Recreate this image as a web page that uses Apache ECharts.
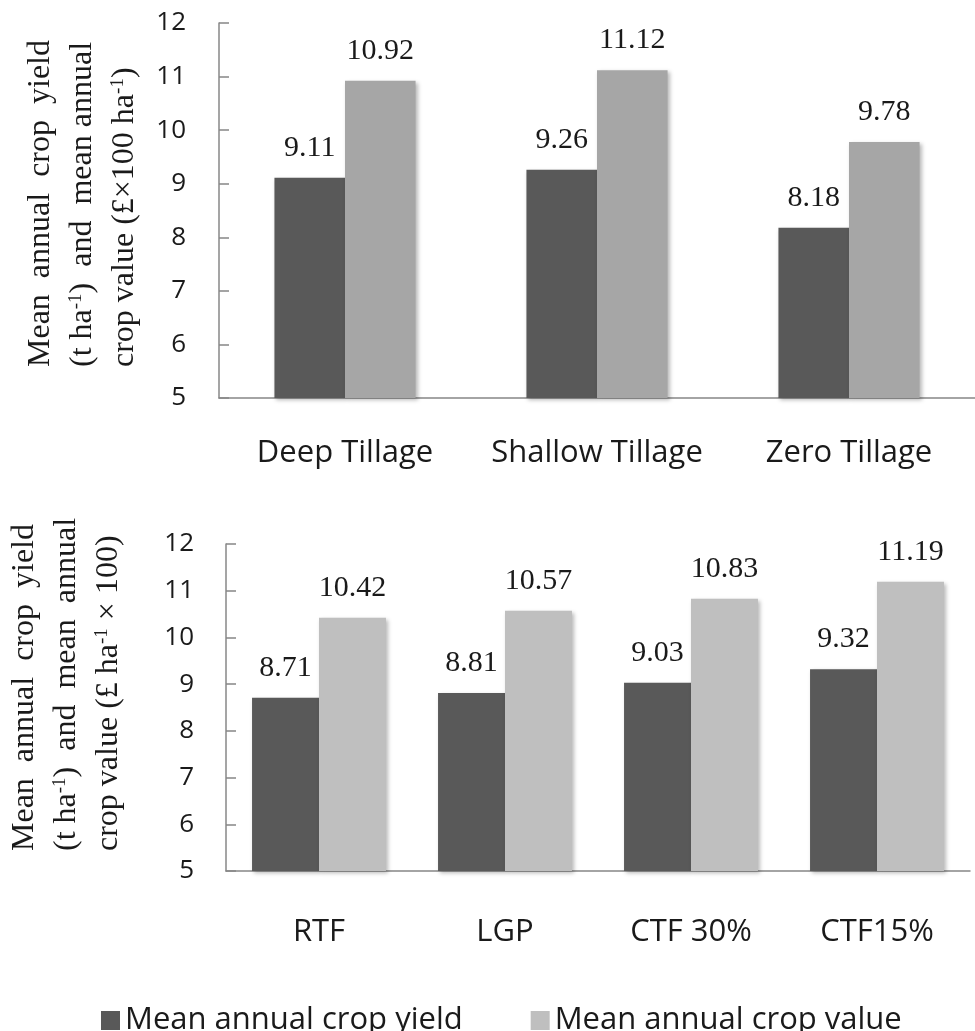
<!DOCTYPE html>
<html>
<head>
<meta charset="utf-8">
<script src="https://cdn.jsdelivr.net/npm/echarts@6/dist/echarts.min.js"></script>
<style>
html,body{margin:0;padding:0;background:#fff;}
#chart{width:975px;height:1031px;}
</style>
</head>
<body>
<div id="chart"></div>
<script>
// ---- data ----
var tillageCategories = ['Deep Tillage', 'Shallow Tillage', 'Zero Tillage'];
var tillageYield = [9.11, 9.26, 8.18];
var tillageValue = [10.92, 11.12, 9.78];

var trafficCategories = ['RTF', 'LGP', 'CTF 30%', 'CTF15%'];
var trafficYield = [8.71, 8.81, 9.03, 9.32];
var trafficValue = [10.42, 10.57, 10.83, 11.19];

var yTicks = [5, 6, 7, 8, 9, 10, 11, 12];
var seriesNames = ['Mean annual crop yield', 'Mean annual crop value'];

// ---- styles ----
var DARK = '#595959', LIGHT_TOP = '#a6a6a6', LIGHT_BOT = '#bfbfbf';
var AXIS = '#878787';
var SANS = '"Open Sans", "Liberation Sans", sans-serif';
var SERIF = '"Liberation Serif", "DejaVu Serif", serif';

var chart = echarts.init(document.getElementById('chart'), null, {renderer: 'canvas'});

function yAxisCfg(gridIndex, margin) {
  return {
    type: 'value', gridIndex: gridIndex,
    min: yTicks[0], max: yTicks[yTicks.length - 1], interval: 1,
    axisLine: {show: true, lineStyle: {color: AXIS, width: 1.5}},
    axisTick: {show: true, inside: true, length: 10, lineStyle: {color: AXIS, width: 1.5}},
    splitLine: {show: false},
    axisLabel: {color: '#1a1a1a', fontFamily: SANS, fontSize: 26, margin: margin, padding: [12, 0, 0, 0]}
  };
}
function xAxisCfg(gridIndex, cats, margin) {
  return {
    type: 'category', gridIndex: gridIndex, data: cats,
    axisLine: {show: true, lineStyle: {color: AXIS, width: 1.5}},
    axisTick: {show: false},
    axisLabel: {color: '#1a1a1a', fontFamily: SANS, fontSize: 31, margin: margin, interval: 0}
  };
}
function barSeries(name, data, color, axisIndex, width, gap) {
  return {
    name: name, type: 'bar', xAxisIndex: axisIndex, yAxisIndex: axisIndex,
    data: data, barWidth: width, barGap: '0%', barCategoryGap: gap,
    itemStyle: {color: color, shadowBlur: 4, shadowOffsetX: 2, shadowOffsetY: 2, shadowColor: 'rgba(0,0,0,0.28)'},
    label: {show: true, position: 'top', distance: 15, color: '#1a1a1a', fontFamily: SERIF, fontSize: 30,
      formatter: function (p) { return p.value.toFixed(2); }},
    emphasis: {disabled: true}
  };
}

var supRich = {
  n: {fontFamily: SERIF, fontSize: 32, lineHeight: 42, color: '#1a1a1a'},
  s: {fontFamily: SERIF, fontSize: 19, lineHeight: 42, color: '#1a1a1a', verticalAlign: 'top', padding: [5, 0, 0, 0]}
};

var option = {
  animation: false,
  backgroundColor: '#ffffff',
  grid: [
    {left: 219, top: 23, width: 768, height: 375, containLabel: false},
    {left: 226, top: 544, width: 744, height: 327, containLabel: false}
  ],
  xAxis: [xAxisCfg(0, tillageCategories, 40), xAxisCfg(1, trafficCategories, 46)],
  yAxis: [yAxisCfg(0, 33), yAxisCfg(1, 32)],
  legend: {
    left: 96, top: 1000, itemWidth: 19, itemHeight: 19, itemGap: 68,
    icon: 'rect',
    textStyle: {fontFamily: SANS, fontSize: 31, color: '#1a1a1a'},
    itemStyle: {shadowBlur: 0, shadowOffsetX: 0, shadowOffsetY: 0},
    data: [
      {name: seriesNames[0], itemStyle: {color: DARK}},
      {name: seriesNames[1], itemStyle: {color: LIGHT_BOT}}
    ]
  },
  graphic: [
    {
      type: 'text', x: 83, y: 367, rotation: Math.PI / 2,
      style: {
        text: '{n|Mean  annual  crop  yield}\n{n|(t ha}{s|-1}{n|)  and  mean annual}\n{n|crop value (£×100 ha}{s|-1}{n|)}',
        rich: supRich, align: 'left', verticalAlign: 'middle',
        font: '32px ' + SERIF, fill: '#1a1a1a'
      }
    },
    {
      type: 'text', x: 67, y: 851, rotation: Math.PI / 2,
      style: {
        text: '{n|Mean  annual  crop  yield}\n{n|(t ha}{s|-1}{n|)  and  mean  annual}\n{n|crop value (£ ha}{s|-1}{n| × 100)}',
        rich: supRich, align: 'left', verticalAlign: 'middle',
        font: '32px ' + SERIF, fill: '#1a1a1a'
      }
    }
  ],
  series: [
    barSeries(seriesNames[0], tillageYield, DARK, 0, '28%', '44%'),
    barSeries(seriesNames[1], tillageValue, LIGHT_TOP, 0, '28%', '44%'),
    barSeries(seriesNames[0], trafficYield, DARK, 1, '36%', '28%'),
    barSeries(seriesNames[1], trafficValue, LIGHT_BOT, 1, '36%', '28%')
  ]
};
chart.setOption(option);
</script>
</body>
</html>
